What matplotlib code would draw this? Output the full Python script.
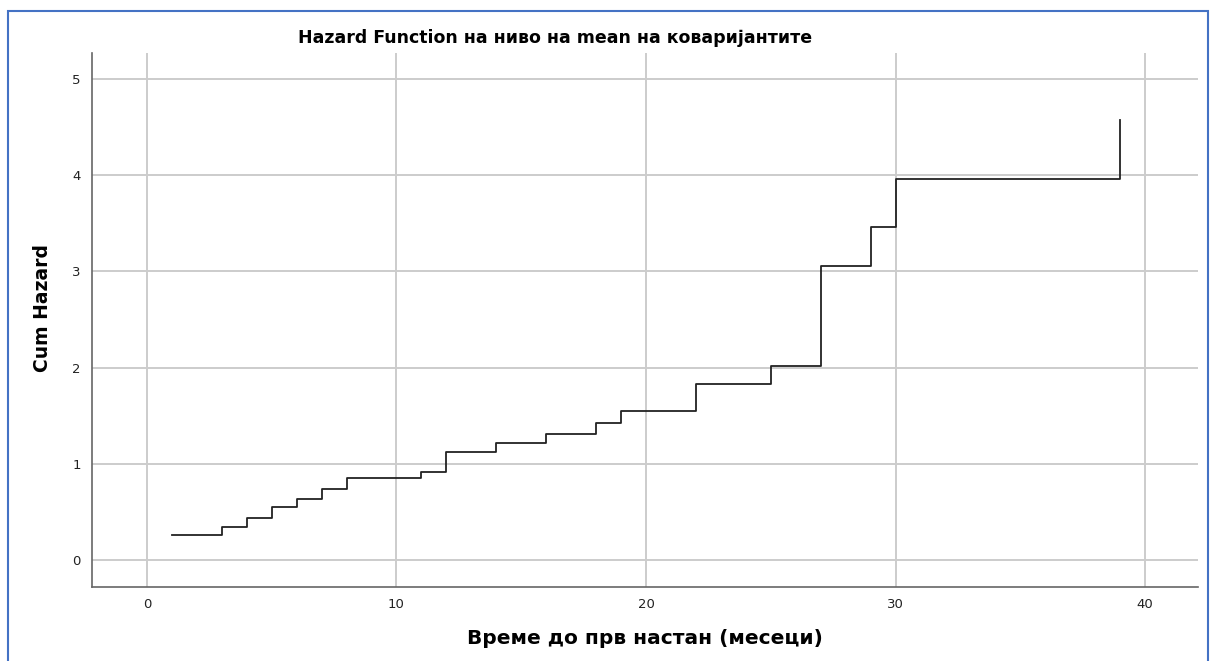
import matplotlib
matplotlib.use("Agg")
import matplotlib.pyplot as plt
from matplotlib.patches import Rectangle

# time to first event (months) and cumulative hazard at mean of covariates
times = [1, 3, 4, 5, 6, 7, 8, 11, 12, 14, 16, 18, 19, 22, 25, 27, 29, 30, 39]
cum_hazard = [0.26, 0.346, 0.443, 0.551, 0.64, 0.741, 0.85, 0.913, 1.128, 1.216,
              1.313, 1.424, 1.552, 1.835, 2.013, 3.052, 3.46, 3.965, 4.57]

x_ticks = [0, 10, 20, 30, 40]
y_ticks = [0, 1, 2, 3, 4, 5]

plt.rcParams['font.family'] = ['DejaVu Sans']

fig = plt.figure(figsize=(12.12, 6.61), dpi=100)
ax = fig.add_axes([92 / 1212, 74 / 661, 1106 / 1212, 534 / 661])

ax.step(times, cum_hazard, where='post', color='#222222', lw=1.3, zorder=3)

ax.set_xlim(-2.2, 42.12)
ax.set_ylim(-0.278, 5.27)
ax.set_xticks(x_ticks)
ax.set_yticks(y_ticks)
ax.grid(True, color='#cccccc', lw=1.4)
ax.set_axisbelow(True)
ax.tick_params(length=0, labelsize=9.5, colors='#222222', pad=8)

for s in ['top', 'right']:
    ax.spines[s].set_visible(False)
for s in ['left', 'bottom']:
    ax.spines[s].set_color('#666666')
    ax.spines[s].set_linewidth(1.2)

fig.text(555, 661 - 38, 'Hazard Function на ниво на mean на коваријантите',
         transform=None, ha='center', va='center', fontsize=12.5, fontweight='bold')
fig.text(645, 661 - 638, 'Време до прв настан (месеци)', transform=None,
         ha='center', va='center', fontsize=14.5, fontweight='bold')
fig.text(42, 661 - 308, 'Cum Hazard', transform=None, rotation=90,
         ha='center', va='center', fontsize=13.5, fontweight='bold')

# blue frame around the picture
fig.patches.append(Rectangle((8, -10), 1200, 661 - 11 + 10, transform=None,
                             fill=False, edgecolor='#4472c4', lw=1.5))

fig.savefig('out.png', dpi=100)
